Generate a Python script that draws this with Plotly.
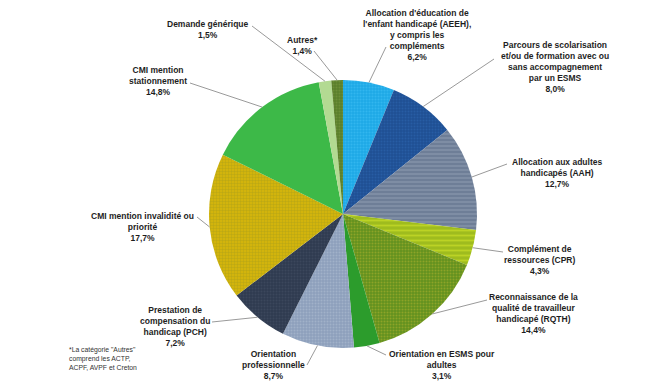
import math
import plotly.graph_objects as go

# ---- data ----
categories = [
    "Allocation d'éducation de<br>l'enfant handicapé (AEEH),<br>y compris les<br>compléments",
    "Parcours de scolarisation<br>et/ou de formation avec ou<br>sans accompagnement<br>par un ESMS",
    "Allocation aux adultes<br>handicapés (AAH)",
    "Complément de<br>ressources (CPR)",
    "Reconnaissance de la<br>qualité de travailleur<br>handicapé (RQTH)",
    "Orientation en ESMS pour<br>adultes",
    "Orientation<br>professionnelle",
    "Prestation de<br>compensation du<br>handicap (PCH)",
    "CMI mention invalidité ou<br>priorité",
    "CMI mention<br>stationnement",
    "Demande générique",
    "Autres*",
]
values = [6.2, 8.0, 12.7, 4.3, 14.4, 3.1, 8.7, 7.2, 17.7, 14.8, 1.5, 1.4]
footnote = '*La catégorie "Autres"<br>comprend les ACTP,<br>ACPF, AVPF et Creton'

# ---- styles ----
colors = ["#1ea9e6", "#1f4f93", "#6e7e97", "#9fbc1e", "#62911f", "#2c9c2c",
          "#8d9fbb", "#2f3a4f", "#d2b40c", "#3db948", "#b3da92", "#5b7f2b"]
pat_shapes = [".", ".", "-", "-", ".", "", ".", ".", "+", "", "", "."]
pat_fg = ["#45c3f7", "#2f6cb6", "#9aa8bd", "#d9ea2c", "#b8b830", "#2c9c2c",
          "#b6c3d8", "#47536a", "#8f9124", "#3db948", "#b3da92", "#7fa046"]
pat_size = [3, 3, 4, 5, 3, 3, 3, 3, 3, 3, 3, 3]
pat_solid = [0.35, 0.35, 0.35, 0.35, 0.35, 0.35, 0.35, 0.35, 0.25, 0.35, 0.35, 0.35]

W, H = 650, 390
OFF = 8  # page body margin offset
CX, CY, R = 343, 214, 134


def px(x):
    return (x - OFF) / W


def py(y):
    return 1 - (y - OFF) / H


# label block centres (screen px) and leader start points (screen px)
label_pos = [(417, 35), (555, 66.5), (557, 172.5), (540, 259.5), (533, 313),
             (442, 365), (273, 365), (175, 326.5), (142, 227), (158, 81),
             (208, 29), (302, 45)]
leader_start = [(386, 47), (494, 59), (507, 164), (503, 252), (487, 300),
                (386, 355), (307, 365), (212, 322), (197, 217), (190, 83),
                (252, 26), (314, 51)]

fig = go.Figure()
fig.add_trace(go.Pie(
    labels=[c.replace("<br>", " ") for c in categories],
    values=values,
    sort=False,
    direction="clockwise",
    rotation=0,
    textinfo="none",
    hoverinfo="label+percent",
    marker=dict(colors=colors, line=dict(width=0),
                pattern=dict(shape=pat_shapes, fgcolor=pat_fg, size=pat_size,
                             solidity=pat_solid, fillmode="overlay")),
    domain=dict(x=[px(CX - R), px(CX + R)],
                y=[py(CY + R), py(CY - R)]),
    showlegend=False,
))

total = sum(values)
cum = 0.0
shapes = []
annotations = []
for i, v in enumerate(values):
    mid = (cum + v / 2) / total * 2 * math.pi
    cum += v
    ex = CX + R * math.sin(mid)
    ey = CY - R * math.cos(mid)
    sx, sy = leader_start[i]
    shapes.append(dict(type="line", xref="paper", yref="paper",
                       x0=px(sx), y0=py(sy), x1=px(ex), y1=py(ey),
                       line=dict(color="#9a9a9a", width=1)))
    lx, ly = label_pos[i]
    txt = "<b>%s<br>%s%%</b>" % (categories[i], ("%.1f" % v).replace(".", ","))
    annotations.append(dict(x=px(lx), y=py(ly), xref="paper", yref="paper",
                            text=txt, showarrow=False, align="center",
                            xanchor="center", yanchor="middle",
                            font=dict(family="Liberation Sans, Arial", size=8.5,
                                      color="#1e1e1e")))

annotations.append(dict(x=px(67), y=py(358.5), xref="paper", yref="paper",
                        text=footnote, showarrow=False, align="left",
                        xanchor="left", yanchor="middle",
                        font=dict(family="Liberation Sans, Arial", size=6.8,
                                  color="#333333")))

fig.update_layout(width=W, height=H, margin=dict(l=0, r=0, t=0, b=0),
                  paper_bgcolor="white", plot_bgcolor="white",
                  shapes=shapes, annotations=annotations)
fig.write_html("out.html")
